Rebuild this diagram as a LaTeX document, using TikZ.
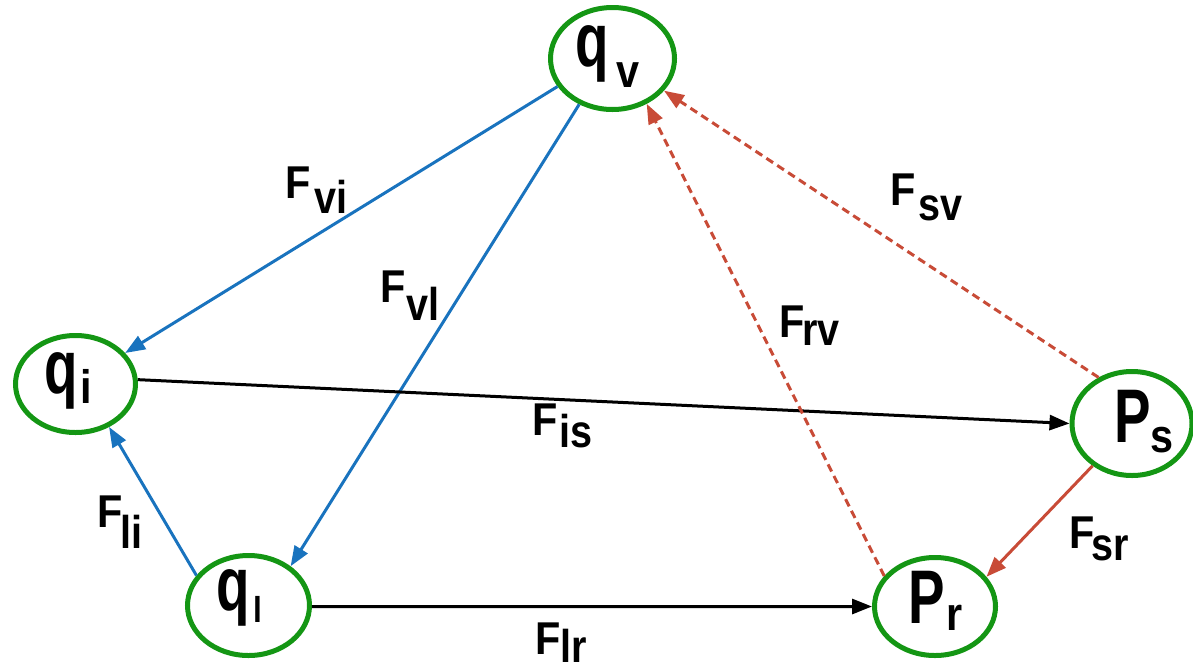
\documentclass[tikz,border=0pt]{standalone}
\usepackage{fontspec}
\setmainfont{Liberation Sans}
\usepackage{graphicx}
\usetikzlibrary{shapes.geometric,arrows.meta}

\definecolor{ngreen}{RGB}{20,150,20}
\definecolor{eblue}{RGB}{25,115,190}
\definecolor{ered}{RGB}{200,75,55}

% main letter, subscript, gap, drop, [sub size]
\newcommand{\nlab}[5][47]{{\fontsize{76}{76}\selectfont\bfseries\scalebox{0.72}[1]{#2}}\hspace{#4pt}\raisebox{-#5pt}{\fontsize{#1}{#1}\selectfont\bfseries\scalebox{0.88}[1]{#3}}}
% subscript, gap, drop
\newcommand{\flab}[3]{{\fontsize{46}{46}\selectfont\bfseries\scalebox{0.9}[1]{F}}\hspace{#2pt}\raisebox{-#3pt}{\fontsize{46}{46}\selectfont\bfseries\scalebox{0.86}[1]{#1}}}

\tikzset{
  ell/.style={ellipse, draw=ngreen, line width=5pt, inner sep=0pt},
  txt/.style={anchor=base west, inner sep=0pt, outer sep=0pt},
  tip/.style={-{Triangle[length=20pt,width=15pt]}},
  blueedge/.style={tip, draw=eblue, line width=3pt},
  blackedge/.style={tip, draw=black, line width=3pt},
  rededge/.style={tip, draw=ered, line width=3pt},
  reddash/.style={rededge, dash pattern=on 8pt off 5pt},
}

\begin{document}
\begin{tikzpicture}[x=1pt,y=-1pt]
\useasboundingbox (0,0) rectangle (1193,670);

% nodes
\node[ell, minimum width=124pt, minimum height=102pt] (qv) at (612.5,58.5) {};
\node[ell, minimum width=120pt, minimum height=97pt] (qi) at (75.5,384) {};
\node[ell, minimum width=122pt, minimum height=100pt] (ql) at (248.5,605.5) {};
\node[ell, minimum width=121pt, minimum height=98pt] (pr) at (935,606.5) {};
\node[ell, minimum width=120pt, minimum height=104pt] (ps) at (1132,423.5) {};

% node labels
\node[txt] (tqv) at (575,66) {\nlab{q}{v}{8}{21}};
\node[txt] (tqi) at (44,393) {\nlab{q}{i}{3}{10}};
\node[txt] (tql) at (216,610) {\nlab[36]{q}{l}{4}{12}};
\node[txt] (tpr) at (908,623) {\nlab{P}{r}{2}{7}};
\node[txt] (tps) at (1114,442) {\nlab{P}{s}{0}{10}};

% edges
\draw[blueedge] (qv.207.8) -- (qi.32.1);
\draw[blueedge] (qv.234.6) -- (ql.43.5);
\draw[blueedge] (ql.150.3) -- (qi.-52.4);
\draw[blackedge] (qi.4.3) -- (ps.180);
\draw[blackedge] (ql.-1) -- (pr.180);
\draw[rededge] (ps.227.2) -- (pr.30.3);
\draw[reddash] (pr.149.2) -- (qv.-53);
\draw[reddash] (ps.126.5) -- (qv.-32.5);

% edge labels
\node[txt] (lvi) at (285,198) {\flab{vi}{4.3}{15}};
\node[txt] (lvl) at (380,302) {\flab{vl}{1.3}{18}};
\node[txt] (lrv) at (779,337) {\flab{rv}{-2}{8}};
\node[txt] (lsv) at (890,205) {\flab{sv}{3.5}{15}};
\node[txt] (lis) at (532,435) {\flab{is}{1.9}{12}};
\node[txt] (lli) at (97,527) {\flab{li}{-2}{21}};
\node[txt] (lsr) at (1069,548) {\flab{sr}{-2.5}{12}};
\node[txt] (llr) at (535,654) {\flab{lr}{0}{8}};
\end{tikzpicture}
\end{document}
